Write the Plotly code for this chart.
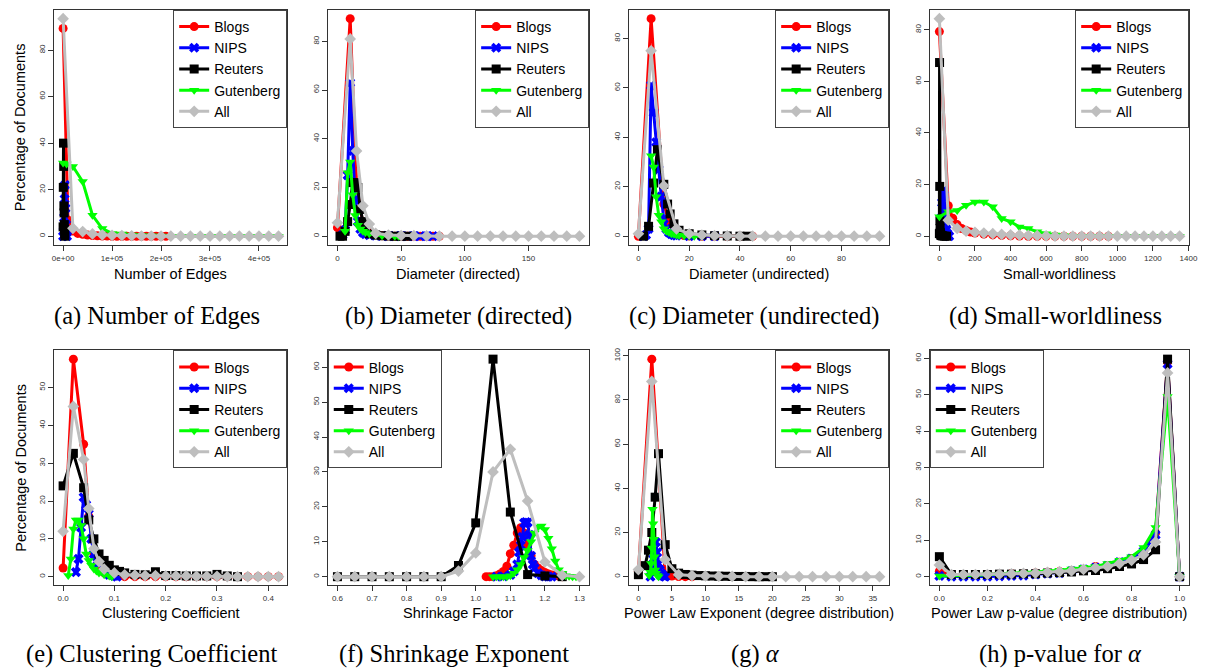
import plotly.graph_objects as go

W, H = 1217, 670

SERIES = ["Blogs", "NIPS", "Reuters", "Gutenberg", "All"]
COLORS = ["#FF0000", "#0000FF", "#000000", "#00FF00", "#BEBEBE"]
SYMBOLS = ["circle", "x", "square", "triangle-down", "diamond"]

# ---------------- (a) Number of Edges ----------------
A_BLOGS_X = [0, 10000, 20000, 30000, 40000, 50000, 60000, 70000, 80000, 90000, 100000, 110000,
             120000, 130000, 140000, 150000, 160000, 170000, 180000, 190000, 200000, 210000]
A_BLOGS_Y = [89.3, 7.0, 2.2, 1.2, 0.8, 0.5, 0.3, 0.2, 0.1, 0.1, 0, 0, 0, 0, 0, 0, 0, 0, 0, 0, 0, 0]
A_NIPS_X = [0, 1000, 2000, 3000, 4000, 5000, 6000, 7000, 8000]
A_NIPS_Y = [0, 2, 8, 16, 22, 12, 5, 1.5, 0]
A_REUTERS_X = [0, 400, 800, 1200, 1600, 2000, 2400, 2800, 3200, 3600]
A_REUTERS_Y = [4, 21, 40, 30, 13, 10, 5, 3, 1, 0]
A_GUT_X = [0, 7000, 20000, 40000, 60000, 80000, 100000, 120000, 140000, 160000, 180000, 200000,
           220000, 240000, 260000, 280000, 300000, 320000, 340000, 360000, 380000, 400000, 420000, 440000]
A_GUT_Y = [31.5, 31.0, 30.0, 23.5, 9.0, 3.3, 1.2, 0.9, 0.5, 0.3, 0.2, 0.1, 0, 0, 0, 0, 0, 0, 0, 0, 0, 0, 0, 0]
A_ALL_X = [0, 20000, 40000, 60000, 80000, 100000, 120000, 140000, 160000, 180000, 200000, 220000,
           240000, 260000, 280000, 300000, 320000, 340000, 360000, 380000, 400000, 420000, 440000]
A_ALL_Y = [93.5, 3.4, 2.0, 1.0, 0.6, 0.4, 0.3, 0.2, 0.1, 0.1, 0, 0, 0, 0, 0, 0, 0, 0, 0, 0, 0, 0, 0]

# ---------------- (b) Diameter (directed) ----------------
B_BLOGS_X = [0, 10, 15, 20, 25, 30, 35, 40, 45, 50, 55, 60, 65, 70, 75, 80]
B_BLOGS_Y = [3.5, 89.3, 21, 5, 1.5, 0.5, 0.2, 0.1, 0, 0, 0, 0, 0, 0, 0, 0]
B_NIPS_X = [4, 6, 8, 10, 12, 14, 16, 18, 20, 22, 25, 30, 35, 40, 45, 50, 55, 60, 65, 70, 75]
B_NIPS_Y = [0.5, 2.5, 25, 63, 35, 15, 6, 3, 1.5, 0.8, 0.4, 0.2, 0.1, 0, 0, 0, 0, 0, 0, 0, 0]
B_REUTERS_X = [2, 4, 6, 8, 10, 12, 14, 16, 18, 20, 22, 25, 30, 35, 40, 45, 50, 55]
B_REUTERS_Y = [0, 0, 2, 6, 13, 22, 22, 20, 11, 6, 3, 1, 0.5, 0.2, 0.1, 0, 0, 0]
B_GUT_X = [6, 8, 10, 12, 14, 16, 18, 20, 22, 25, 30, 35, 40, 45, 48]
B_GUT_Y = [2, 26, 30.5, 17, 8.5, 4.5, 3, 2, 1.5, 1, 0.5, 0.2, 0.1, 0, 0]
B_ALL_X = [0, 10, 15, 20, 25, 30, 40, 50, 60, 70, 80, 90, 100, 110, 120, 130, 140, 150, 160, 170, 180, 190]
B_ALL_Y = [5.5, 81, 35, 12.5, 5, 1.2, 0.5, 0.3, 0.2, 0.1, 0, 0, 0, 0, 0, 0, 0, 0, 0, 0, 0, 0]

# ---------------- (c) Diameter (undirected) ----------------
C_BLOGS_X = [0, 5, 10, 12, 14, 16, 18, 20, 25, 30, 35, 40, 45]
C_BLOGS_Y = [0, 88, 13, 6, 2, 0.8, 0.3, 0.1, 0, 0, 0, 0, 0]
C_NIPS_X = [2, 3, 4, 5, 6, 7, 8, 9, 10, 11, 12, 13, 14, 15, 20, 25, 30]
C_NIPS_Y = [0, 0.5, 3, 61, 50, 38, 27, 16, 7, 3, 1.5, 0.8, 0.4, 0.2, 0, 0, 0]
C_REUTERS_X = [2, 4, 6, 7.5, 10, 11.5, 12.5, 14, 16, 20, 25, 30, 35, 40, 43]
C_REUTERS_Y = [0, 4, 21.5, 35, 21, 13, 9, 5, 2.4, 1, 0.5, 0.2, 0.1, 0, 0]
C_GUT_X = [5, 6, 7, 8, 9, 10, 11, 12, 13, 14, 15, 16, 18, 20, 22, 25]
C_GUT_Y = [32.5, 28, 16, 8.5, 5.8, 3, 2, 1.5, 1, 0.8, 0.5, 0.3, 0.2, 0.1, 0, 0]
C_ALL_X = [0, 5, 10, 15, 20, 25, 30, 35, 40, 45, 50, 55, 60, 65, 70, 75, 80, 85, 90, 95]
C_ALL_Y = [1, 75, 20.4, 3, 1, 0.5, 0.2, 0.1, 0, 0, 0, 0, 0, 0, 0, 0, 0, 0, 0, 0]

# ---------------- (d) Small-worldliness ----------------
D_BLOGS_X = [0, 50, 75, 100, 125, 150, 175, 200, 250, 300, 350, 400, 450, 500, 550, 600, 650,
             700, 750, 800, 850, 900, 950]
D_BLOGS_Y = [79.3, 11.8, 7, 4.5, 3, 2.2, 1.6, 1.2, 0.8, 0.5, 0.3, 0.2, 0.1, 0, 0, 0, 0, 0, 0, 0, 0, 0, 0]
D_NIPS_X = [5, 10, 15, 20, 25, 30, 35, 40, 45, 50, 55]
D_NIPS_Y = [1, 7, 13, 17.5, 16, 10, 5, 2.5, 1, 0.3, 0]
D_REUTERS_X = [0, 1, 2, 3, 4, 5, 6, 8, 10, 15, 20, 30, 40]
D_REUTERS_Y = [1, 67.3, 19.3, 6, 3, 1.5, 1, 0.5, 0.3, 0.2, 0.1, 0, 0]
D_GUT_X = [0, 50, 100, 150, 200, 250, 300, 350, 400, 450, 500, 550, 600, 650, 700, 750, 800, 850,
           900, 950, 1000, 1050, 1100, 1150, 1200, 1250, 1300, 1350]
D_GUT_Y = [7.5, 9.5, 10, 12, 13.3, 13.3, 11.4, 6.9, 5.6, 3.6, 3, 1.7, 1, 0.5, 0.2, 0, 0, 0, 0, 0,
           0, 0, 0, 0, 0, 0, 0, 0]
D_ALL_X = [0, 50, 100, 150, 200, 250, 300, 350, 400, 450, 500, 550, 600, 650, 700, 750, 800, 850,
           900, 950, 1000, 1050, 1100, 1150, 1200, 1250, 1300, 1350]
D_ALL_Y = [84.3, 6.2, 3, 2, 1.5, 1.2, 1, 0.7, 0.5, 0.4, 0.3, 0.2, 0.1, 0, 0, 0, 0, 0, 0, 0,
           0, 0, 0, 0, 0, 0, 0, 0]

# ---------------- (e) Clustering Coefficient ----------------
E_BLOGS_X = [0, 0.02, 0.04, 0.05, 0.06, 0.07, 0.08, 0.09, 0.1, 0.12, 0.14, 0.16, 0.18, 0.2, 0.22,
             0.24, 0.26, 0.28, 0.3, 0.32, 0.34, 0.36, 0.38, 0.4, 0.42]
E_BLOGS_Y = [2.3, 57.5, 35, 16, 6, 2.5, 1, 0.5, 0.2, 0, 0, 0, 0, 0, 0, 0, 0, 0, 0, 0, 0, 0, 0, 0, 0]
E_NIPS_X = [0.025, 0.03, 0.035, 0.04, 0.045, 0.05, 0.055, 0.06, 0.065, 0.07, 0.08, 0.09, 0.1, 0.105]
E_NIPS_Y = [1.2, 4.7, 13, 21, 19, 16.6, 10, 6, 4, 3.4, 1.5, 0.5, 0.2, 0]
E_REUTERS_X = [0, 0.02, 0.04, 0.05, 0.06, 0.07, 0.08, 0.09, 0.1, 0.11, 0.12, 0.14, 0.16, 0.18, 0.2,
               0.22, 0.24, 0.26, 0.28, 0.3, 0.32, 0.34]
E_REUTERS_Y = [24, 32.6, 23.5, 15, 10, 6, 4.3, 3, 1.8, 1.4, 1, 0.6, 0.5, 1.3, 0.3, 0.3, 0.2, 0.2,
               0.2, 0.6, 0.2, 0]
E_GUT_X = [0.01, 0.015, 0.02, 0.025, 0.03, 0.035, 0.04, 0.045, 0.05, 0.055, 0.06, 0.065, 0.07,
           0.08, 0.09, 0.095]
E_GUT_Y = [0.3, 4.7, 12.6, 15, 15, 13.5, 10, 6, 4.3, 3, 2, 1.5, 1, 0.5, 0.2, 0]
E_ALL_X = [0, 0.02, 0.04, 0.05, 0.06, 0.07, 0.08, 0.1, 0.12, 0.14, 0.16, 0.18, 0.2, 0.22, 0.24,
           0.26, 0.28, 0.3, 0.32, 0.34, 0.36, 0.38, 0.4, 0.42]
E_ALL_Y = [12, 45, 31, 18, 7.4, 4, 2, 1, 0.5, 0.4, 0.3, 0.3, 0.2, 0.2, 0.2, 0.1, 0.1, 0.1, 0, 0,
           0, 0, 0, 0]

# ---------------- (f) Shrinkage Factor ----------------
F_BLOGS_X = [1.03, 1.04, 1.05, 1.06, 1.07, 1.08, 1.09, 1.1, 1.11, 1.12, 1.13, 1.14, 1.15, 1.16,
             1.17, 1.18, 1.19, 1.2, 1.21, 1.22, 1.23, 1.24, 1.25]
F_BLOGS_Y = [0, 0, 0, 0.3, 0.8, 1.5, 3, 6.6, 9, 12.5, 14, 12.5, 9, 6, 3.5, 2.5, 1.8, 1.2, 0.8,
             0.5, 0.3, 0.2, 0]
F_NIPS_X = [1.06, 1.08, 1.1, 1.11, 1.12, 1.125, 1.13, 1.135, 1.14, 1.145, 1.15, 1.155, 1.16,
            1.165, 1.17, 1.18, 1.19, 1.2, 1.21, 1.22]
F_NIPS_Y = [0, 0.1, 0.5, 1.5, 3.5, 7, 9, 11.4, 15.4, 15.6, 15.5, 12, 6, 3.5, 2.5, 1, 0.4, 0.1, 0, 0]
F_REUTERS_X = [0.6, 0.65, 0.7, 0.75, 0.8, 0.85, 0.9, 0.95, 1.0, 1.05, 1.1, 1.15, 1.2, 1.25]
F_REUTERS_Y = [0, 0, 0, 0, 0, 0, 0, 3.2, 15.4, 62.3, 18.5, 0.6, 0.2, 0]
F_GUT_X = [1.05, 1.06, 1.07, 1.08, 1.09, 1.1, 1.11, 1.12, 1.13, 1.14, 1.15, 1.16, 1.17, 1.18,
           1.19, 1.2, 1.21, 1.22, 1.23, 1.24, 1.25, 1.26, 1.27, 1.28, 1.29]
F_GUT_Y = [0, 0, 0, 0, 0, 0.3, 1, 2, 3.5, 5.5, 7.5, 10, 12.5, 14.2, 14.5, 13.5, 11, 8, 4.5, 2,
           1, 0.3, 0.1, 0, 0]
F_ALL_X = [0.6, 0.65, 0.7, 0.75, 0.8, 0.85, 0.9, 0.95, 1.0, 1.05, 1.1, 1.15, 1.2, 1.25, 1.3]
F_ALL_Y = [0, 0, 0, 0, 0, 0, 0, 1.6, 6.8, 30, 36.5, 21.7, 4.2, 0.4, 0]

# ---------------- (g) Power Law Exponent ----------------
G_BLOGS_X = [0, 2, 4, 5, 6, 7, 8]
G_BLOGS_Y = [2.5, 98.5, 0.6, 0.3, 0.1, 0, 0]
G_NIPS_X = [1.8, 2.0, 2.2, 2.4, 2.6, 2.8, 3.0, 3.2, 3.4, 3.6, 3.8, 4.0]
G_NIPS_Y = [0, 3, 8, 13, 15.7, 11, 6, 3, 1.5, 0.6, 0.2, 0]
G_REUTERS_X = [0, 1, 1.5, 2, 2.5, 3, 4, 5, 6, 7, 8, 9, 10, 11, 12, 13, 14, 15, 16, 17, 18, 19, 20]
G_REUTERS_Y = [0.9, 5, 12, 20, 36, 55.7, 14.5, 3.6, 1.6, 1, 0.7, 0.5, 0.4, 0.3, 0.2, 0.2, 0.1,
               0.1, 0.1, 0, 0, 0, 0]
G_GUT_X = [1.6, 1.8, 1.9, 2.0, 2.1, 2.2, 2.3, 2.4, 2.5, 2.6, 2.8, 3.0]
G_GUT_Y = [0.5, 2, 6, 13, 30.5, 24, 17, 9, 3, 1.5, 0.5, 0]
G_ALL_X = [0, 2, 4, 6, 8, 10, 12, 14, 16, 18, 20, 22, 24, 26, 28, 30, 32, 34, 36]
G_ALL_Y = [3.2, 88.4, 7.7, 0.9, 0.5, 0.3, 0.2, 0.1, 0, 0, 0, 0, 0, 0, 0, 0, 0, 0, 0]

# ---------------- (h) Power Law p-value ----------------
H_X = [0, 0.05, 0.1, 0.15, 0.2, 0.25, 0.3, 0.35, 0.4, 0.45, 0.5, 0.55, 0.6, 0.65, 0.7, 0.75,
       0.8, 0.85, 0.9, 0.95, 1.0]
H_BLOGS_Y = [1.5, 0.4, 0.5, 0.5, 0.6, 0.7, 0.8, 0.9, 1.0, 1.2, 1.4, 1.6, 2, 2.8, 3, 4, 5, 7, 12, 59, 0]
H_NIPS_Y = [0.2, 0, 0, 0, 0, 0.1, 0.2, 0.3, 0.6, 0.8, 1, 1.5, 2, 2.5, 3, 4, 5, 7, 11.5, 58.5, 0]
H_REUTERS_Y = [5.5, 0.6, 0.6, 0.6, 0.6, 0.7, 0.7, 0.8, 0.8, 1.0, 1.1, 1.3, 1.6, 1.7, 2.2, 2.8,
               3.5, 4.7, 7.4, 59.8, 0]
H_GUT_Y = [0.2, 0.2, 0.2, 0.4, 0.5, 0.7, 0.8, 1, 1.1, 1.5, 1.8, 2.1, 2.6, 2.8, 3.6, 4.5, 5.5, 8,
           13.5, 49.5, 0]
H_ALL_Y = [3.2, 0.6, 0.6, 0.6, 0.6, 0.7, 0.8, 0.9, 1, 1.2, 1.4, 1.6, 2, 2.4, 2.8, 3.6, 4.5, 6,
           9.5, 56, 0]

# ---------------- ticks / labels ----------------
A_XTICKS = [0, 100000, 200000, 300000, 400000]
A_XTEXT = ["0e+00", "1e+05", "2e+05", "3e+05", "4e+05"]
B_XTICKS = [0, 50, 100, 150]
C_XTICKS = [0, 20, 40, 60, 80]
D_XTICKS = [0, 200, 400, 600, 800, 1000, 1200, 1400]
E_XTICKS = [0.0, 0.1, 0.2, 0.3, 0.4]
E_XTEXT = ["0.0", "0.1", "0.2", "0.3", "0.4"]
F_XTICKS = [0.6, 0.7, 0.8, 0.9, 1.0, 1.1, 1.2, 1.3]
F_XTEXT = ["0.6", "0.7", "0.8", "0.9", "1.0", "1.1", "1.2", "1.3"]
G_XTICKS = [0, 5, 10, 15, 20, 25, 30, 35]
H_XTICKS = [0.0, 0.2, 0.4, 0.6, 0.8, 1.0]
H_XTEXT = ["0.0", "0.2", "0.4", "0.6", "0.8", "1.0"]
Y20_TICKS = [0, 20, 40, 60, 80]
Y10_TICKS_50 = [0, 10, 20, 30, 40, 50]
Y10_TICKS_60 = [0, 10, 20, 30, 40, 50, 60]
Y20_TICKS_100 = [0, 20, 40, 60, 80, 100]

X_TITLES = ["Number of Edges", "Diameter (directed)", "Diameter (undirected)", "Small-worldliness",
            "Clustering Coefficient", "Shrinkage Factor",
            "Power Law Exponent (degree distribution)", "Power Law p-value (degree distribution)"]
CAPTIONS = ["(a) Number of Edges", "(b) Diameter (directed)", "(c) Diameter (undirected)",
            "(d) Small-worldliness", "(e) Clustering Coefficient", "(f) Shrinkage Exponent",
            "(g) <i>α</i>", "(h) p-value for <i>α</i>"]
Y_TITLE = "Percentage of Documents"

PANELS = [
    dict(series=[(A_BLOGS_X, A_BLOGS_Y), (A_NIPS_X, A_NIPS_Y), (A_REUTERS_X, A_REUTERS_Y),
                 (A_GUT_X, A_GUT_Y), (A_ALL_X, A_ALL_Y)],
         xt=A_XTICKS, xl=A_XTEXT, yt=Y20_TICKS, leg="right"),
    dict(series=[(B_BLOGS_X, B_BLOGS_Y), (B_NIPS_X, B_NIPS_Y), (B_REUTERS_X, B_REUTERS_Y),
                 (B_GUT_X, B_GUT_Y), (B_ALL_X, B_ALL_Y)],
         xt=B_XTICKS, xl=[str(v) for v in B_XTICKS], yt=Y20_TICKS, leg="right"),
    dict(series=[(C_BLOGS_X, C_BLOGS_Y), (C_NIPS_X, C_NIPS_Y), (C_REUTERS_X, C_REUTERS_Y),
                 (C_GUT_X, C_GUT_Y), (C_ALL_X, C_ALL_Y)],
         xt=C_XTICKS, xl=[str(v) for v in C_XTICKS], yt=Y20_TICKS, leg="right"),
    dict(series=[(D_BLOGS_X, D_BLOGS_Y), (D_NIPS_X, D_NIPS_Y), (D_REUTERS_X, D_REUTERS_Y),
                 (D_GUT_X, D_GUT_Y), (D_ALL_X, D_ALL_Y)],
         xt=D_XTICKS, xl=[str(v) for v in D_XTICKS], yt=Y20_TICKS, leg="right"),
    dict(series=[(E_BLOGS_X, E_BLOGS_Y), (E_NIPS_X, E_NIPS_Y), (E_REUTERS_X, E_REUTERS_Y),
                 (E_GUT_X, E_GUT_Y), (E_ALL_X, E_ALL_Y)],
         xt=E_XTICKS, xl=E_XTEXT, yt=Y10_TICKS_50, leg="right"),
    dict(series=[(F_BLOGS_X, F_BLOGS_Y), (F_NIPS_X, F_NIPS_Y), (F_REUTERS_X, F_REUTERS_Y),
                 (F_GUT_X, F_GUT_Y), (F_ALL_X, F_ALL_Y)],
         xt=F_XTICKS, xl=F_XTEXT, yt=Y10_TICKS_60, leg="left"),
    dict(series=[(G_BLOGS_X, G_BLOGS_Y), (G_NIPS_X, G_NIPS_Y), (G_REUTERS_X, G_REUTERS_Y),
                 (G_GUT_X, G_GUT_Y), (G_ALL_X, G_ALL_Y)],
         xt=G_XTICKS, xl=[str(v) for v in G_XTICKS], yt=Y20_TICKS_100, leg="right"),
    dict(series=[(H_X, H_BLOGS_Y), (H_X, H_NIPS_Y), (H_X, H_REUTERS_Y),
                 (H_X, H_GUT_Y), (H_X, H_ALL_Y)],
         xt=H_XTICKS, xl=H_XTEXT, yt=Y10_TICKS_60, leg="left"),
]

# layout geometry (pixels)
COL_X = [(52, 287), (328, 592), (632, 895), (936, 1198)]
ROW_Y = [(7, 243), (349, 585)]
XTITLE_Y = [272, 613]
CAPTION_Y = [314, 654]
CAPTION_X = [156, 460, 758, 1063, 150, 455, 760, 1068]

AXCOL = "#333333"
SANS = "Liberation Sans, Arial, sans-serif"
SERIF = "Liberation Serif, Times New Roman, serif"

fig = go.Figure()
layout = dict(width=W, height=H, margin=dict(l=0, r=0, t=0, b=0), autosize=False,
              paper_bgcolor="white", plot_bgcolor="white", font=dict(family=SANS),
              annotations=[])

for i, p in enumerate(PANELS):
    r, c = divmod(i, 4)
    x0, x1 = COL_X[c]
    y0, y1 = ROW_Y[r]
    n = "" if i == 0 else str(i + 1)
    legname = "legend" + n
    allx = [v for s in p["series"] for v in s[0]]
    ally = [v for s in p["series"] for v in s[1]]
    xmin, xmax = min(allx), max(allx)
    ymin, ymax = min(ally), max(ally)
    dx, dy = (xmax - xmin) * 0.04, (ymax - ymin) * 0.04
    for k, (sx, sy) in enumerate(p["series"]):
        fig.add_trace(go.Scatter(
            x=sx, y=sy, mode="lines+markers", name=SERIES[k],
            line=dict(color=COLORS[k], width=3),
            marker=dict(symbol=SYMBOLS[k], size=9, color=COLORS[k],
                        line=dict(width=0, color=COLORS[k])),
            xaxis="x" + n, yaxis="y" + n, legend=legname, showlegend=True,
            cliponaxis=False))
    layout["xaxis" + n] = dict(
        domain=[x0 / W, x1 / W], range=[xmin - dx, xmax + dx], anchor="y" + n,
        showline=True, mirror=True, linecolor=AXCOL, linewidth=1,
        ticks="outside", ticklen=5, tickcolor=AXCOL, tickwidth=1,
        tickvals=p["xt"], ticktext=p["xl"], tickfont=dict(size=8, color=AXCOL),
        showgrid=False, zeroline=False, fixedrange=True)
    layout["yaxis" + n] = dict(
        domain=[1 - y1 / H, 1 - y0 / H], range=[ymin - dy, ymax + dy], anchor="x" + n,
        showline=True, mirror=True, linecolor=AXCOL, linewidth=1,
        ticks="outside", ticklen=5, tickcolor=AXCOL, tickwidth=1,
        tickvals=p["yt"], ticktext=[str(v) for v in p["yt"]],
        tickfont=dict(size=8, color=AXCOL), tickangle=-90,
        showgrid=False, zeroline=False, fixedrange=True)
    if p["leg"] == "right":
        lx, xa = x1 / W, "right"
    else:
        lx, xa = x0 / W, "left"
    layout[legname] = dict(
        x=lx, xanchor=xa, y=1 - y0 / H, yanchor="top", xref="paper", yref="paper",
        bgcolor="white", bordercolor="#444444", borderwidth=1,
        font=dict(size=14, color="black", family=SANS), tracegroupgap=0,
        itemclick=False, itemdoubleclick=False)
    layout["annotations"].append(dict(
        text=X_TITLES[i], x=(x0 + x1) / 2 / W, y=1 - XTITLE_Y[r] / H,
        xref="paper", yref="paper", xanchor="center", yanchor="middle",
        showarrow=False, font=dict(size=14.5, color="black", family=SANS)))
    layout["annotations"].append(dict(
        text=CAPTIONS[i], x=CAPTION_X[i] / W, y=1 - CAPTION_Y[r] / H,
        xref="paper", yref="paper", xanchor="center", yanchor="middle",
        showarrow=False, font=dict(size=24.5, color="black", family=SERIF)))
    if c == 0:
        layout["annotations"].append(dict(
            text=Y_TITLE, x=18 / W, y=1 - (y0 + y1) / 2 / H, textangle=-90,
            xref="paper", yref="paper", xanchor="center", yanchor="middle",
            showarrow=False, font=dict(size=14.5, color="black", family=SANS)))

fig.update_layout(**layout)
fig.write_html("out.html", config={"displayModeBar": False},
               post_script="document.body.style.margin='0';document.body.style.overflow='hidden';")
